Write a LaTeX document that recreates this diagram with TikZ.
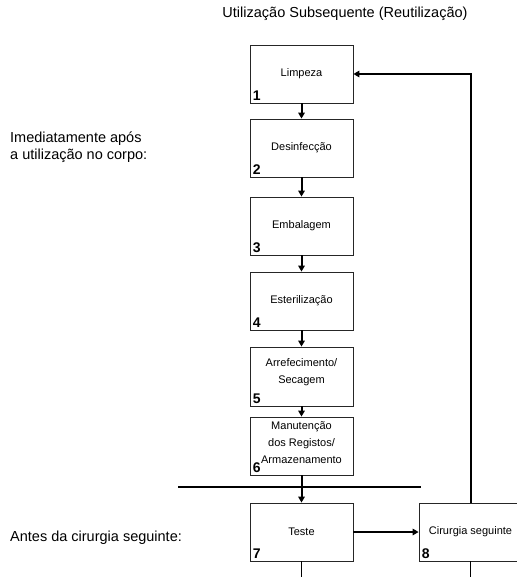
\documentclass[tikz,border=0pt]{standalone}
\usepackage{fontspec}
\setmainfont{Liberation Sans}
\usetikzlibrary{arrows.meta}
\begin{document}
\begin{tikzpicture}[x=1pt,y=-1pt,
  stepbox/.style={draw=black!85,line width=0.8pt,rectangle,inner sep=0pt,
    minimum width=103pt,minimum height=58pt,align=center,
    font=\fontsize{11}{16.5}\selectfont},
  steptext/.style={inner sep=0pt,align=center,font=\fontsize{11}{16.8}\selectfont},
  num/.style={anchor=base west,inner sep=0pt,font=\fontsize{14}{14}\selectfont\bfseries},
  lbl/.style={inner sep=0pt,align=left,font=\fontsize{14.5}{16.8}\selectfont},
  flow/.style={line width=2pt,-{Triangle[length=6pt,width=6.5pt]}},
  plain/.style={line width=2pt}]
\useasboundingbox (0,0) rectangle (516,577);

% titles and phase labels
\node[lbl] (title) at (345,14) {Utilização Subsequente (Reutilização)};
\node[lbl,anchor=west] (imed) at (10,147.5) {Imediatamente após\\a utilização no corpo:};
\node[lbl,anchor=west] (antes) at (10,538) {Antes da cirurgia seguinte:};

% process steps
\node[stepbox] (b1) at (301.5,74) {Limpeza};
\node[stepbox] (b2) at (301.5,148) {Desinfecção};
\node[stepbox] (b3) at (301.5,226) {Embalagem};
\node[stepbox] (b4) at (301.5,301) {Esterilização};
\node[stepbox,minimum height=59pt] (b5) at (301.5,376.5) {};
\node[steptext] (t5) at (301.5,372.5) {Arrefecimento/\\Secagem};
\node[stepbox] (b6) at (301.5,446) {};
\node[steptext] (t6) at (301.5,442.5) {Manutenção\\dos Registos/\\Armazenamento};
\node[stepbox] (b7) at (301.5,532) {Teste};
\node[stepbox] (b8) at (470.5,532) {Cirurgia seguinte};

% step numbers
\foreach \i in {1,...,8}
  \node[num] (n\i) at ([xshift=3pt,yshift=3pt]b\i.south west) {\i};

% separator between the two phases
\coordinate (sepL) at (178,487);
\coordinate (sepR) at (421,487);
\draw[plain] (sepL) -- (sepR);

% connectors
\draw[flow] (b1) -- (b2);
\draw[flow] (b2) -- (b3);
\draw[flow] (b3) -- (b4);
\draw[flow] (b4) -- (b5);
\draw[flow] (b5) -- (b6);
\draw[flow] (b6) -- (b7);
\draw[flow] (b7) -- (b8);
\draw[flow] (b8.north) |- (b1.east);

% continuing lines below the last steps
\coordinate (e7) at (301.5,580);
\coordinate (e8) at (470.5,580);
\draw[line width=1pt] (b7.south) -- (e7);
\draw[line width=1pt] (b8.south) -- (e8);
\end{tikzpicture}
\end{document}
